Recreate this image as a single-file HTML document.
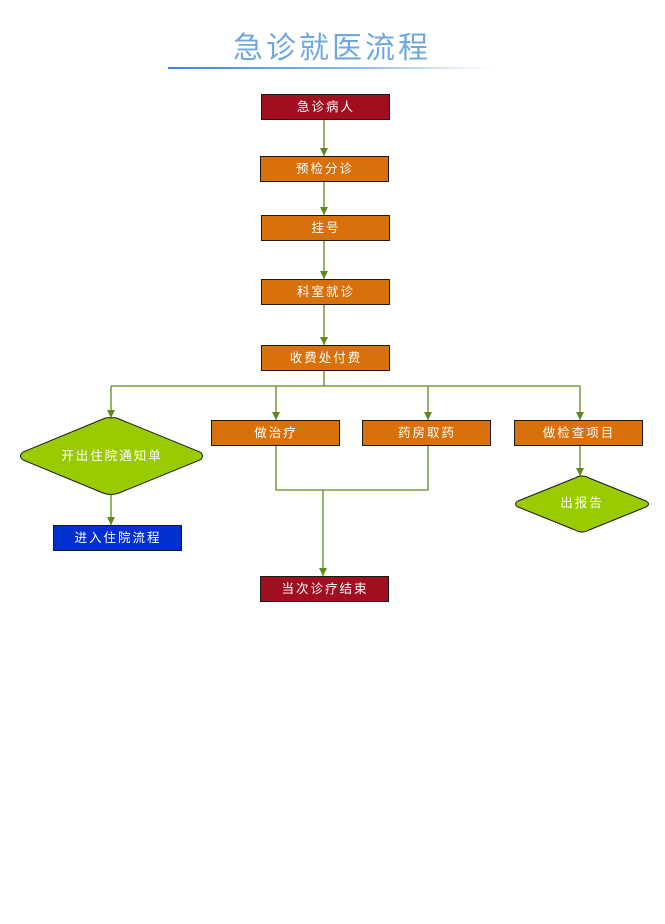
<!DOCTYPE html>
<html><head><meta charset="utf-8"><style>
html,body{margin:0;padding:0;background:#fff;width:665px;height:924px;overflow:hidden}
text{font-family:"Liberation Sans","Noto Sans CJK SC",sans-serif}
</style></head><body>
<svg width="665" height="924" viewBox="0 0 665 924" xmlns="http://www.w3.org/2000/svg">
<defs>
<linearGradient id="lg" x1="0" x2="1" y1="0" y2="0"><stop offset="0" stop-color="#3d86d6"/><stop offset="0.6" stop-color="#8fbbe8"/><stop offset="1" stop-color="#ffffff"/></linearGradient>
<marker id="a" markerWidth="9" markerHeight="9" refX="8" refY="4" orient="auto" markerUnits="userSpaceOnUse"><path d="M0,0 L8,4 L0,8 z" fill="#5e8a1a"/></marker>
</defs>
<text x="332" y="58" text-anchor="middle" font-size="30" fill="#6fa8e0" letter-spacing="3">急诊就医流程</text>
<rect x="168" y="67" width="322" height="2" fill="url(#lg)"/>
<g stroke="#5e8a1a" stroke-width="1.3" fill="none">
<line x1="324" y1="119" x2="324" y2="156" marker-end="url(#a)"/>
<line x1="324" y1="181" x2="324" y2="215" marker-end="url(#a)"/>
<line x1="324" y1="240" x2="324" y2="279" marker-end="url(#a)"/>
<line x1="324" y1="304" x2="324" y2="345" marker-end="url(#a)"/>
<line x1="324" y1="370" x2="324" y2="386"/>
<line x1="111" y1="386" x2="580" y2="386"/>
<line x1="111" y1="386" x2="111" y2="418" marker-end="url(#a)"/>
<line x1="276" y1="386" x2="276" y2="420" marker-end="url(#a)"/>
<line x1="428" y1="386" x2="428" y2="420" marker-end="url(#a)"/>
<line x1="580" y1="386" x2="580" y2="420" marker-end="url(#a)"/>
<line x1="111" y1="494" x2="111" y2="525" marker-end="url(#a)"/>
<line x1="580" y1="445" x2="580" y2="476" marker-end="url(#a)"/>
<polyline points="276,445 276,490 428,490 428,445"/>
<line x1="323" y1="490" x2="323" y2="576" marker-end="url(#a)"/>
</g>
<g stroke="#1a1a1a" stroke-width="1">
<rect x="261.5" y="94.5" width="128" height="25" fill="#a10e1f"/>
<rect x="260.5" y="156.5" width="128" height="25" fill="#d8700c"/>
<rect x="261.5" y="215.5" width="128" height="25" fill="#d8700c"/>
<rect x="261.5" y="279.5" width="128" height="25" fill="#d8700c"/>
<rect x="261.5" y="345.5" width="128" height="25" fill="#d8700c"/>
<rect x="211.5" y="420.5" width="128" height="25" fill="#d8700c"/>
<rect x="362.5" y="420.5" width="128" height="25" fill="#d8700c"/>
<rect x="514.5" y="420.5" width="128" height="25" fill="#d8700c"/>
<rect x="53.5" y="525.5" width="128" height="25" fill="#0230d0"/>
<rect x="260.5" y="576.5" width="128" height="25" fill="#a10e1f"/>
<path d="M111,418 Q115,417 119,419 L200,452 Q205,456 200,460 L119,493 Q111,496 103,493 L23,460 Q18,456 23,452 L103,419 Q107,417 111,418 z" fill="#99cc00"/>
<path d="M582,476 Q586,476 589,478 L646,501 Q651,504 646,507 L589,530 Q582,534 575,530 L518,507 Q513,504 518,501 L575,478 Q578,476 582,476 z" fill="#99cc00"/>
</g>
<g fill="#fff" font-size="12.5" text-anchor="middle" letter-spacing="2">
<text x="326" y="111">急诊病人</text>
<text x="325" y="173">预检分诊</text>
<text x="326" y="232">挂号</text>
<text x="326" y="296">科室就诊</text>
<text x="326" y="362">收费处付费</text>
<text x="276" y="437">做治疗</text>
<text x="427" y="437">药房取药</text>
<text x="579" y="437">做检查项目</text>
<text x="112" y="460">开出住院通知单</text>
<text x="582" y="507">出报告</text>
<text x="118" y="542">进入住院流程</text>
<text x="325" y="593">当次诊疗结束</text>
</g>
</svg>
</body></html>
